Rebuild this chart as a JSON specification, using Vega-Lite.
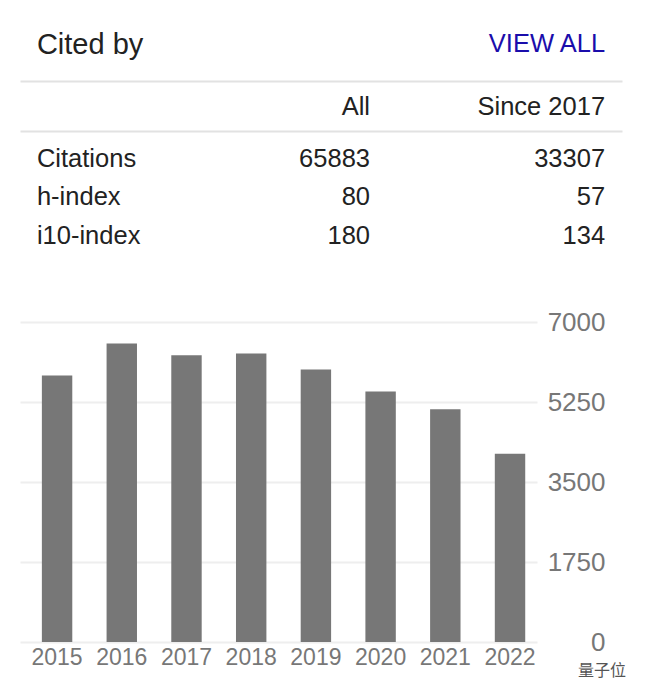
{
  "$schema": "https://vega.github.io/schema/vega-lite/v6.json",
  "padding": {"left": 20, "top": 0, "right": 24, "bottom": 20},
  "background": "white",
  "bounds": "flush",
  "spacing": 0,
  "config": {
    "view": {"stroke": null},
    "font": "Liberation Sans",
    "axis": {"labelFont": "Liberation Sans"}
  },
  "datasets": {
    "heading": [
      {"role": "title", "text": "Cited by"},
      {"role": "link", "text": "VIEW ALL"}
    ],
    "columns": [
      {"column": "All"},
      {"column": "Since 2017"}
    ],
    "stats": [
      {"metric": "Citations", "All": 65883, "Since 2017": 33307},
      {"metric": "h-index", "All": 80, "Since 2017": 57},
      {"metric": "i10-index", "All": 180, "Since 2017": 134}
    ],
    "citations": [
      {"year": "2015", "citations": 5830},
      {"year": "2016", "citations": 6530},
      {"year": "2017", "citations": 6270},
      {"year": "2018", "citations": 6310},
      {"year": "2019", "citations": 5960},
      {"year": "2020", "citations": 5480},
      {"year": "2021", "citations": 5090},
      {"year": "2022", "citations": 4120}
    ]
  },
  "vconcat": [
    {
      "width": 602,
      "height": 81,
      "data": {"name": "heading"},
      "layer": [
        {
          "transform": [{"filter": "datum.role == 'title'"}],
          "mark": {"type": "text", "align": "left", "baseline": "middle", "fontSize": 29, "color": "#222222", "dy": 4},
          "encoding": {
            "x": {"datum": "metric", "type": "nominal", "bandPosition": 0,
              "scale": {"type": "band", "domain": ["metric", "All", "Since 2017"], "paddingInner": 0.583, "paddingOuter": 0.072},
              "axis": {"orient": "bottom", "title": null, "labels": false, "ticks": false, "grid": false, "domain": true, "domainColor": "#e2e2e2", "domainWidth": 2}},
            "text": {"field": "text"}
          }
        },
        {
          "transform": [{"filter": "datum.role == 'link'"}],
          "mark": {"type": "text", "align": "right", "baseline": "middle", "fontSize": 25.5, "color": "#1a0dab", "dy": 3},
          "encoding": {
            "x": {"datum": "Since 2017", "type": "nominal", "bandPosition": 1},
            "text": {"field": "text"}
          }
        }
      ]
    },
    {
      "width": 602,
      "height": 50,
      "data": {"name": "columns"},
      "mark": {"type": "text", "align": "right", "baseline": "middle", "fontSize": 25.5, "color": "#222222", "dy": 1},
      "encoding": {
        "x": {"field": "column", "type": "nominal", "bandPosition": 1,
          "scale": {"type": "band", "domain": ["metric", "All", "Since 2017"], "paddingInner": 0.583, "paddingOuter": 0.072},
          "axis": null},
        "text": {"field": "column"}
      }
    },
    {
      "width": 602,
      "height": 191,
      "data": {"name": "stats"},
      "layer": [
        {
          "mark": {"type": "text", "align": "left", "baseline": "middle", "fontSize": 25.5, "color": "#222222"},
          "encoding": {
            "x": {"datum": "metric", "type": "nominal", "bandPosition": 0,
              "scale": {"type": "band", "domain": ["metric", "All", "Since 2017"], "paddingInner": 0.583, "paddingOuter": 0.072},
              "axis": {"orient": "top", "title": null, "labels": false, "ticks": false, "grid": false, "domain": true, "domainColor": "#e2e2e2", "domainWidth": 2}},
            "y": {"field": "metric", "type": "nominal",
              "scale": {"type": "band", "domain": ["Citations", "h-index", "i10-index"], "paddingInner": 0, "paddingOuter": 1.116, "align": 0.12},
              "axis": null},
            "text": {"field": "metric"}
          }
        },
        {
          "transform": [{"fold": ["All", "Since 2017"], "as": ["column", "value"]}],
          "mark": {"type": "text", "align": "right", "baseline": "middle", "fontSize": 25.5, "color": "#222222"},
          "encoding": {
            "x": {"field": "column", "type": "nominal", "bandPosition": 1},
            "y": {"field": "metric", "type": "nominal"},
            "text": {"field": "value", "type": "quantitative", "format": "d"}
          }
        }
      ]
    },
    {
      "width": 517,
      "height": 320,
      "data": {"name": "citations"},
      "title": {"text": "量子位", "orient": "bottom", "anchor": "end", "font": "Noto Sans CJK SC", "fontSize": 16, "fontWeight": "normal", "color": "#555555", "offset": -6, "dx": 21},
      "mark": {"type": "bar", "color": "#777777"},
      "encoding": {
        "x": {"field": "year", "type": "ordinal",
          "scale": {"paddingInner": 0.53, "paddingOuter": 0.26, "align": 0.65},
          "axis": {"title": null, "labelAngle": 0, "domain": false, "ticks": false, "grid": false, "labelFontSize": 23, "labelColor": "#777777", "labelPadding": 4}},
        "y": {"field": "citations", "type": "quantitative",
          "scale": {"domain": [0, 7000], "nice": false},
          "axis": {"orient": "right", "title": null, "values": [0, 1750, 3500, 5250, 7000], "format": "d", "grid": true, "gridColor": "#eeeeee", "gridWidth": 2, "domain": false, "ticks": false, "labelAlign": "right", "labelBaseline": "middle", "labelPadding": 68, "labelFontSize": 26, "labelColor": "#777777"}}
      }
    }
  ]
}
